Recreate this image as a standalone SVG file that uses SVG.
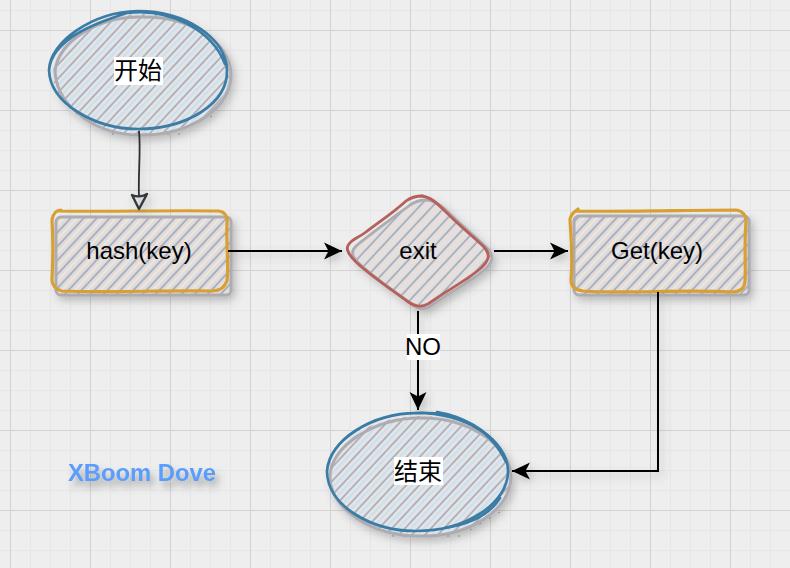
<svg xmlns="http://www.w3.org/2000/svg" width="790" height="568" viewBox="0 0 790 568">
<style>
.t{font-family:"Liberation Sans","Noto Sans CJK SC",sans-serif;font-size:24px;fill:#000;text-anchor:middle}
.lbl{fill:#fff}
.gs{fill:none;stroke:#acacb2;stroke-width:3;stroke-linecap:round;stroke-linejoin:round}
.blue{fill:none;stroke:#3a7ca5;stroke-width:2.7;stroke-linecap:round;stroke-linejoin:round}
.gold{fill:none;stroke:#d8a032;stroke-width:3.2;stroke-linecap:round;stroke-linejoin:round}
.red{fill:none;stroke:#b5605a;stroke-width:2.8;stroke-linecap:round;stroke-linejoin:round}
.c{fill:none;stroke:#000;stroke-width:2}
.minor{stroke:#e6e6e6;stroke-width:1;fill:none}
.major{stroke:#d2d2d2;stroke-width:1;fill:none}
</style>
<defs>
<pattern id="gm" width="20" height="20" patternUnits="userSpaceOnUse" x="10" y="10"><path class="minor" d="M.5 0V20M0 .5H20"/></pattern>
<pattern id="gM" width="80" height="80" patternUnits="userSpaceOnUse" x="10" y="30"><path class="major" d="M.5 0V80M0 .5H80"/></pattern>
<pattern id="hb" width="9.5" height="9.5" patternUnits="userSpaceOnUse" patternTransform="rotate(-47)"><rect width="9.5" height="9.5" fill="#e2e4e8"/><path d="M0 1H9.5" stroke="#85858c" stroke-width="1"/><path d="M0 5.5H9.5" stroke="#c2dff0" stroke-width="1.4"/></pattern>
<pattern id="ho" width="9.5" height="9.5" patternUnits="userSpaceOnUse" patternTransform="rotate(-47)"><rect width="9.5" height="9.5" fill="#dcdde2"/><path d="M0 1H9.5" stroke="#85858c" stroke-width="1"/><path d="M0 5.5H9.5" stroke="#fae6cf" stroke-width="1.6"/></pattern>
<pattern id="hr" width="9.5" height="9.5" patternUnits="userSpaceOnUse" patternTransform="rotate(-47)"><rect width="9.5" height="9.5" fill="#dfe0e4"/><path d="M0 1H9.5" stroke="#85858c" stroke-width="1"/><path d="M0 5.5H9.5" stroke="#f2ddd2" stroke-width="1.6"/></pattern>
<filter id="sh" x="-20%" y="-20%" width="150%" height="150%"><feDropShadow dx="3" dy="4" stdDeviation="4" flood-color="#555" flood-opacity=".35"/></filter>
<filter id="ts" x="-20%" y="-40%" width="140%" height="220%"><feDropShadow dx="4" dy="6" stdDeviation="3.5" flood-color="#555" flood-opacity=".5"/></filter>
<marker id="a" markerUnits="userSpaceOnUse" markerWidth="22" markerHeight="22" refX="19" refY="10" orient="auto"><path d="M1 1.5L19 10L1 18.5L5.5 10Z" fill="#000"/></marker>
</defs>
<rect width="790" height="568" fill="#eeeeee"/>
<rect width="790" height="568" fill="url(#gm)"/>
<rect width="790" height="568" fill="url(#gM)"/>

<g id="start">
<g filter="url(#sh)">
<ellipse cx="141" cy="74" rx="88" ry="60" fill="url(#hb)"/>
<path d="M112 134L180 134M180 130L212 116" stroke="#85858c" stroke-width="1" stroke-dasharray="2 9"/>
<path class="gs" d="M55 72C58 40 100 16 142 17C190 16 230 42 231 74C232 108 190 135 142 135C100 136 58 110 55 72Z"/>
</g>
<path class="blue" d="M49 70C50 42 92 12 138 11C186 11 226 38 227 70C228 104 186 129 138 129C96 129 50 104 49 70C52 40 92 24 127 13C170 8 212 30 225 64"/>
<rect class="lbl" x="114" y="57" width="49" height="28"/>
<text class="t" x="138" y="79">开始</text>
</g>

<g id="hash">
<g filter="url(#sh)">
<rect x="56" y="217" width="175" height="78" rx="5" fill="url(#ho)"/>
<rect class="gs" x="56" y="217" width="175" height="78" rx="5"/>
</g>
<path class="gold" d="M58 211C110 212 170 210 219 211C225 212 228 216 227 224C226 245 229 265 227 281C224 288 220 291 212 291C160 290 110 293 62 291C56 290 52 285 52 280C53 260 53 235 52 220C53 214 56 210 61 210"/>
<text class="t" x="139" y="259">hash(key)</text>
</g>

<g id="exit">
<g filter="url(#sh)">
<path d="M426 200C433 200 440 204 450 214C466 229 480 241 488 249C494 256 493 263 483 271C468 283 446 295 432 305C426 310 420 310 413 305C398 294 375 278 362 266C352 258 350 252 356 246C372 233 394 217 410 205C416 201 420 200 426 200Z" fill="url(#hr)" stroke="#acacb2" stroke-width="2.8"/>
</g>
<path class="red" d="M421 196C431 197 437 203 448 214C462 228 476 239 484 247C491 255 489 261 480 269C464 282 443 293 428 304C420 308 414 306 407 301C392 290 371 276 356 262C348 254 345 248 349 244C352 239 358 238 366 232C382 220 394 212 406 201C411 197 416 196 423 196"/>
<text class="t" x="418" y="259">exit</text>
</g>

<g id="get">
<g filter="url(#sh)">
<rect x="574" y="216" width="175" height="79" rx="5" fill="url(#ho)"/>
<rect class="gs" x="574" y="216" width="175" height="79" rx="5"/>
</g>
<path class="gold" d="M576 211C630 212 690 210 736 210C743 211 746 215 746 222C744 245 746 265 745 282C744 289 740 292 732 292C680 289 630 294 583 291C575 290 571 287 571 280C573 255 571 240 570 219C571 214 574 212 578 209"/>
<text class="t" x="657" y="259">Get(key)</text>
</g>

<g id="end">
<g filter="url(#sh)">
<ellipse cx="420" cy="476" rx="90" ry="60" fill="url(#hb)"/>
<path d="M392 536L460 536M470 530L500 512" stroke="#85858c" stroke-width="1" stroke-dasharray="2 9"/>
<path class="gs" d="M330 477C330 446 375 418 420 418C470 417 511 447 511 477C510 511 468 537 420 536C372 536 330 509 330 477Z"/>
</g>
<path class="blue" d="M327 471C329 440 372 413 416 413C466 413 507 440 508 470C509 503 466 531 416 531C370 531 327 505 327 471C330 440 370 414 418 413C450 412 487 422 506 462"/>
<path class="blue" d="M437 412C462 416 488 430 500 450M500 498C490 514 470 524 445 528" stroke-width="1.6"/>
<rect class="lbl" x="394" y="457" width="49" height="28"/>
<text class="t" x="418" y="480">结束</text>
</g>

<g id="connectors" filter="url(#sh)">
<path d="M139 131C141 150 138 175 139 196" fill="none" stroke="#2d2d33" stroke-width="1.8"/>
<path d="M139 209L132 195C136 197 143 197 147 194Z" fill="none" stroke="#333840" stroke-width="2.4" stroke-linejoin="round"/>
<path class="c" d="M228 251H342" marker-end="url(#a)"/>
<path class="c" d="M494 251H568" marker-end="url(#a)"/>
<path class="c" d="M418 311V410" marker-end="url(#a)"/>
<path class="c" d="M658 292V471H512" marker-end="url(#a)"/>
</g>

<g id="no-label">
<rect class="lbl" x="407" y="334" width="33" height="26"/>
<text class="t" x="423" y="355">NO</text>
</g>

<g id="title">
<text x="142" y="481" font-family="Liberation Sans, sans-serif" font-size="23.8" font-weight="700" fill="#5a9dfb" text-anchor="middle" filter="url(#ts)">XBoom Dove</text>
</g>
</svg>
